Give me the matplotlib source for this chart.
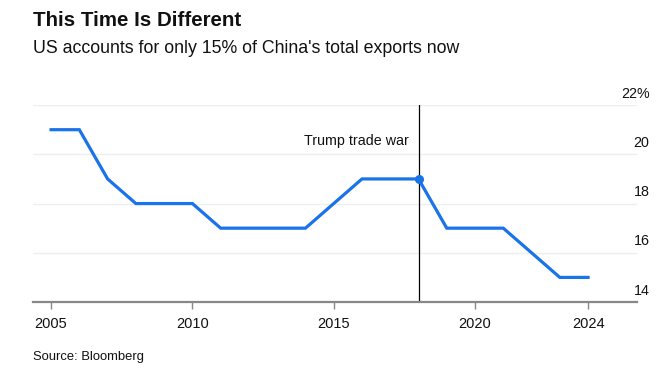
import matplotlib.pyplot as plt
import matplotlib.transforms as mtransforms

plt.rcParams['font.family'] = ['Liberation Sans', 'DejaVu Sans']

years = [2005, 2006, 2007, 2008, 2009, 2010, 2011, 2012, 2013, 2014,
         2015, 2016, 2017, 2018, 2019, 2020, 2021, 2022, 2023, 2024]
us_share = [21, 21, 19, 18, 18, 18, 17, 17, 17, 17,
            18, 19, 19, 19, 17, 17, 17, 16, 15, 15]

x_ticks = [2005, 2010, 2015, 2020, 2024]
y_ticks = [14, 16, 18, 20, 22]
y_labels = ['14', '16', '18', '20', '22%']

event_year = 2018
event_label = 'Trump trade war'

line_color = '#1a73e8'

fig = plt.figure(figsize=(6.64, 3.78), dpi=100)
ax = fig.add_axes([0.0497, 0.201, 0.9096, 0.521])

ax.plot(years, us_share, color=line_color, lw=2.3, solid_joinstyle='miter',
        zorder=3)

# marqueur et ligne verticale de l'événement
ev_val = us_share[years.index(event_year)]
ax.axvline(event_year, color='black', lw=0.9, zorder=2)
ax.plot([event_year], [ev_val], 'o', color=line_color, ms=5.5, zorder=4)
ax.annotate(event_label, xy=(event_year, 20.53), xytext=(-7, 0),
            textcoords='offset points', ha='right', va='center',
            fontsize=10.3, color='#111111')

ax.set_xlim(2004.36, 2025.73)
ax.set_ylim(14, 22)

ax.set_xticks(x_ticks)
ax.set_xticklabels([str(t) for t in x_ticks])
ax.tick_params(axis='x', length=5, width=1, color='#888888', pad=6,
               labelsize=10.5, labelcolor='#111111')

ax.set_yticks(y_ticks)
ax.set_yticklabels(y_labels)
ax.yaxis.tick_right()
ax.tick_params(axis='y', length=0, pad=9, labelsize=10.3, labelcolor='#111111')
offset = mtransforms.ScaledTranslation(0, 0.13, fig.dpi_scale_trans)
for lab in ax.get_yticklabels():
    lab.set_horizontalalignment('right')
    lab.set_transform(lab.get_transform() + offset)

ax.grid(axis='y', color='#eeeeee', lw=1)
ax.set_axisbelow(True)
for s in ['top', 'left', 'right']:
    ax.spines[s].set_visible(False)
ax.spines['bottom'].set_color('#888888')
ax.spines['bottom'].set_linewidth(1.6)

fig.text(0.0497, 0.945, 'This Time Is Different', fontsize=14.8,
         fontweight='bold', va='center', color='#111111')
fig.text(0.0497, 0.872, "US accounts for only 15% of China's total exports now",
         fontsize=12.8, va='center', color='#111111')
fig.text(0.0497, 0.056, 'Source: Bloomberg', fontsize=9.4, va='center',
         color='#111111')

fig.savefig('out.png', dpi=100)
